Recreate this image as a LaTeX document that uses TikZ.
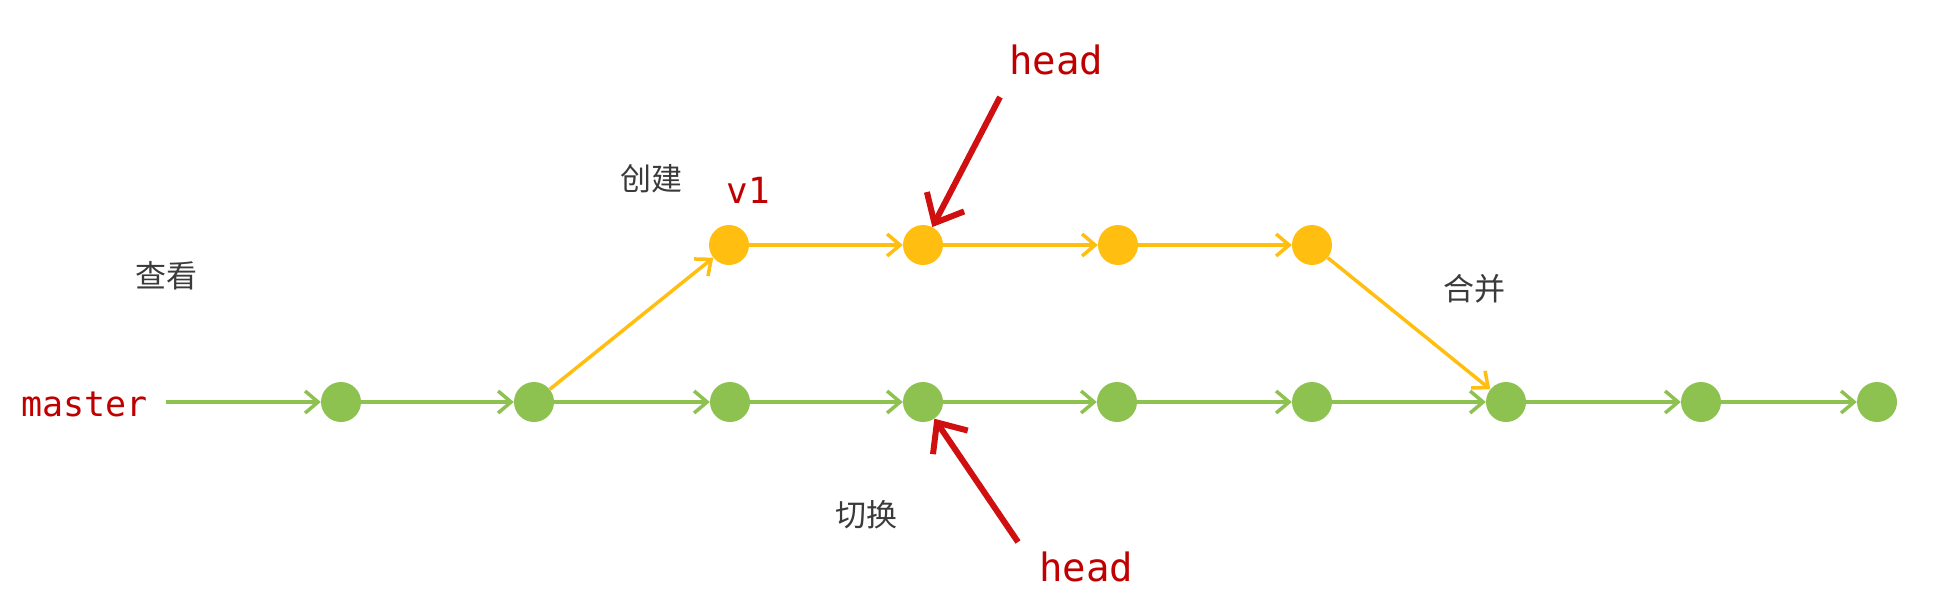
\documentclass[tikz,border=0pt]{standalone}
\usepackage{fontspec}
\setmonofont{DejaVu Sans Mono}
\newfontfamily\cjk{Noto Sans CJK SC}
\usetikzlibrary{arrows.meta}
\definecolor{gr}{HTML}{8DC150}
\definecolor{yl}{HTML}{FFBE10}
\definecolor{rd}{HTML}{C00000}
\definecolor{ra}{HTML}{D01010}
\definecolor{tx}{HTML}{3A3A3A}
\tikzset{
  gnode/.style={circle,fill=gr,minimum size=40pt,inner sep=0pt},
  ynode/.style={circle,fill=yl,minimum size=40pt,inner sep=0pt},
  garr/.style={draw=gr,line width=3.5pt,-{Straight Barb[length=13pt,width=22pt,line width=3.5pt]}},
  yarr/.style={draw=yl,line width=3.5pt,-{Straight Barb[length=13pt,width=22pt,line width=3.5pt]}},
  rarr/.style={draw=ra,line width=6pt,-{Straight Barb[length=24pt,width=42pt,line width=6pt]}},
  redlab/.style={text=rd,font=\ttfamily\fontsize{35}{40}\selectfont,inner sep=0pt},
  cjklab/.style={text=tx,font=\cjk\fontsize{31}{35}\selectfont,inner sep=0pt},
}
\begin{document}
\begin{tikzpicture}[x=1pt,y=-1pt]
\useasboundingbox (0,0) rectangle (1958,595);
% green row
\foreach \i/\x in {1/341,2/534,3/730,4/923,5/1117,6/1312,7/1506,8/1701,9/1877}
  \node[gnode] (g\i) at (\x,402) {};
% yellow row
\foreach \i/\x in {1/729,2/923,3/1118,4/1312}
  \node[ynode] (y\i) at (\x,245) {};
\node[redlab,anchor=west] (master) at (21,404) {master};
\coordinate (ms) at (166,402);
\draw[garr] (ms) -- (g1);
\foreach \a/\b in {1/2,2/3,3/4,4/5,5/6,6/7,7/8,8/9}
  \draw[garr] (g\a) -- (g\b);
\draw[yarr] (g2) -- (y1);
\foreach \a/\b in {1/2,2/3,3/4}
  \draw[yarr] (y\a) -- (y\b);
\draw[yarr] (y4) -- (g7);
% labels
\node[redlab,font=\ttfamily\fontsize{36}{40}\selectfont] (v1) at (748,190) {v1};
\node[redlab,font=\ttfamily\fontsize{39}{44}\selectfont] (headt) at (1056,60) {head};
\node[redlab,font=\ttfamily\fontsize{39}{44}\selectfont] (headb) at (1086,567) {head};
\node[cjklab] (chuangjian) at (651,179) {创建};
\node[cjklab] (chakan) at (166,276) {查看};
\node[cjklab] (hebing) at (1474,289) {合并};
\node[cjklab] (qiehuan) at (866,515) {切换};
% red arrows
\coordinate (ta) at (1000,97);
\coordinate (tb) at (1018,542);
\draw[rarr] (ta) -- (y2);
\draw[rarr] (tb) -- (g4);
\end{tikzpicture}
\end{document}
